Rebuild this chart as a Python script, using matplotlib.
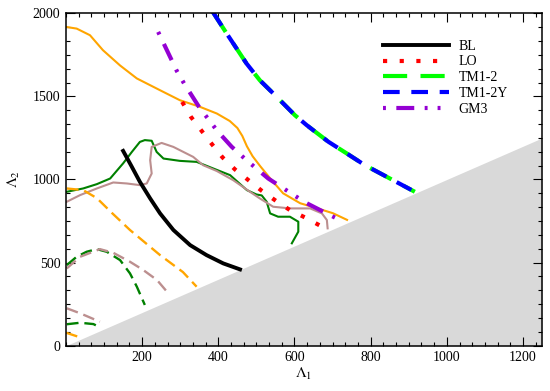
import matplotlib
matplotlib.use("Agg")
import matplotlib.pyplot as plt
import numpy as np
from matplotlib.ticker import MultipleLocator

plt.rcParams["font.family"] = ["Liberation Serif", "DejaVu Serif"]
plt.rcParams["mathtext.fontset"] = "stix"

# contour-like curves (solid / dashed)
orange_x = [0, 28, 63, 97, 142, 186, 247, 299, 352, 396, 430, 450, 463, 475, 490, 510, 536, 570, 615, 659, 701, 738]
orange_y = [1918, 1908, 1868, 1778, 1686, 1608, 1537, 1477, 1437, 1397, 1352, 1310, 1262, 1200, 1140, 1080, 1007, 917, 857, 827, 797, 757]
green_x = [2, 45, 81, 116, 150, 173, 194, 207, 225, 238, 256, 299, 343, 387, 431, 475, 500, 514, 527, 536, 557, 588, 610, 610, 593]
green_y = [926, 946, 972, 1006, 1097, 1166, 1226, 1237, 1233, 1166, 1126, 1112, 1106, 1066, 1026, 936, 910, 904, 866, 796, 776, 776, 746, 686, 616]
brown_x = [2, 37, 81, 124, 160, 194, 212, 225, 221, 225, 251, 282, 308, 334, 360, 396, 439, 483, 509, 544, 588, 641, 672, 685, 687]
brown_y = [866, 906, 946, 982, 976, 966, 976, 1036, 1116, 1196, 1220, 1196, 1166, 1136, 1086, 1051, 996, 926, 886, 836, 826, 826, 796, 756, 706]

orange_d_x = [2, 45, 81, 120, 168, 247, 307, 343]
orange_d_y = [946, 936, 888, 800, 696, 545, 443, 355]
orange_d2_x = [0, 40]
orange_d2_y = [78, 48]
green_d_x = [2, 28, 54, 81, 107, 142, 168, 186, 207]
green_d_y = [485, 535, 565, 581, 565, 515, 435, 355, 245]
green_d2_x = [2, 37, 72, 89]
green_d2_y = [129, 138, 130, 110]
brown_d_x = [2, 37, 89, 124, 168, 203, 239, 265]
brown_d_y = [465, 535, 581, 559, 505, 455, 395, 325]
brown_d2_x = [2, 37, 89]
brown_d2_y = [225, 195, 144]

# model curves
bl_x = [150, 172, 194, 221, 247, 282, 326, 369, 413, 457]
bl_y = [1172, 1080, 986, 886, 796, 696, 605, 545, 495, 459]
lo_x = [305, 328, 356, 383, 411, 444, 479, 514, 551, 588, 629, 669]
lo_y = [1467, 1377, 1293, 1213, 1133, 1060, 996, 932, 872, 816, 770, 720]
tm_x = [385, 422, 474, 509, 549, 562, 601, 632, 649, 689, 737, 785, 916]
tm_y = [2010, 1878, 1698, 1597, 1507, 1477, 1387, 1327, 1297, 1227, 1157, 1086, 926]
gm3_x = [242, 291, 310, 352, 374, 397, 435, 474, 531, 562, 628, 693, 728]
gm3_y = [1888, 1653, 1578, 1427, 1363, 1293, 1197, 1116, 1006, 960, 862, 786, 746]

fig = plt.figure(figsize=(5.5, 3.91), dpi=100)
ax = fig.add_axes([0.12, 0.1159, 0.8655, 0.8501])

xs = np.array([0, 1250])
ax.fill_between(xs, 0, xs, color="#d9d9d9", lw=0, zorder=0)

ax.plot(orange_x, orange_y, color="orange", lw=1.5)
ax.plot(green_x, green_y, color="green", lw=1.5)
ax.plot(brown_x, brown_y, color="#bc8f8f", lw=1.5)
dash = (0, (5, 2.5))
for x, y, c in [(orange_d_x, orange_d_y, "orange"), (orange_d2_x, orange_d2_y, "orange"),
                (green_d_x, green_d_y, "green"), (green_d2_x, green_d2_y, "green"),
                (brown_d_x, brown_d_y, "#bc8f8f"), (brown_d2_x, brown_d2_y, "#bc8f8f")]:
    ax.plot(x, y, color=c, lw=1.7, ls=dash)

ax.plot(bl_x, bl_y, color="black", lw=2.8, label="BL")
ax.plot(lo_x, lo_y, color="red", lw=3, ls=(0, (1, 3)), label="LO")
ax.plot(tm_x, tm_y, color="#00ff00", lw=3, ls=(0, (5.8, 3.2)), label="TM1-2")
ax.plot(tm_x, tm_y, color="blue", lw=3, ls=(0, (4, 2.8)), label="TM1-2Y")
ax.plot(gm3_x, gm3_y, color="#9400d3", lw=3,
        ls=(0, (0.7, 2.5, 4.3, 2.5, 0.7, 2.4)), label="GM3")

ax.set_xlim(0, 1250)
ax.set_ylim(0, 2000)
ax.set_xticks([200, 400, 600, 800, 1000, 1200])
ax.set_yticks([0, 500, 1000, 1500, 2000])
ax.xaxis.set_minor_locator(MultipleLocator(200 / 6))
ax.yaxis.set_minor_locator(MultipleLocator(500 / 6))
ax.tick_params(which="both", direction="in", top=True, right=True, width=0.8, labelsize=10)
ax.tick_params(which="major", length=6.5, pad=4)
ax.tick_params(which="minor", length=3)
for s in ax.spines.values():
    s.set_linewidth(1.1)

ax.set_xlabel(r"$\Lambda_1$", fontsize=11, labelpad=1)
ax.set_ylabel(r"$\Lambda_2$", fontsize=11, labelpad=8)

ax.legend(loc="upper left", bbox_to_anchor=(0.645, 0.95), frameon=False, fontsize=10,
          handlelength=4.8, handletextpad=0.65, labelspacing=0.2, borderpad=0.2)

fig.savefig("out.png", dpi=100)
